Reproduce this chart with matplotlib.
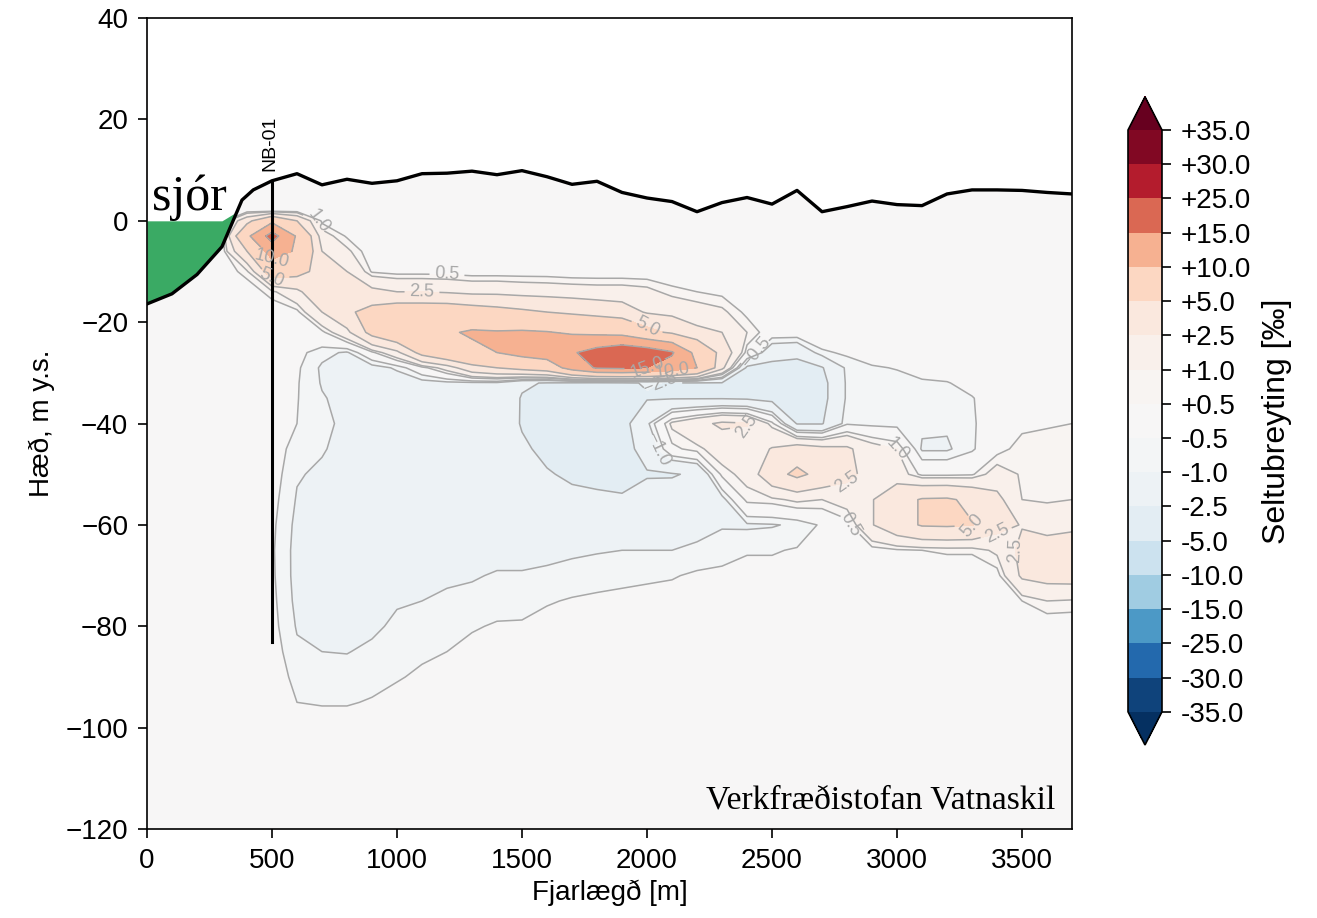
import numpy as np
import matplotlib
matplotlib.use("Agg")
import matplotlib.pyplot as plt

plt.rcParams['font.family'] = ['Liberation Sans', 'DejaVu Sans']
plt.rcParams['font.size'] = 10

# model grid: distance along section [m] and elevation [m y.s.]
dist_m = list(range(0, 3800, 100))
depth_m = [2, 0, -3, -6, -10, -14, -18, -22, -26, -29, -32, -35, -40,
           -45, -50, -55, -60, -65, -70, -75, -80, -85, -90, -95, -100]

# salinity change [permil], one vertical profile per distance (top -> bottom)
salt_change = [
    [0] * 25,  # 0
    [0] * 25,  # 100
    [0] * 25,  # 200
    [0] * 25,  # 300
    [0, 4, 9, 5, 0.8, 0, 0, 0, 0, 0, 0, 0, 0, 0, 0, 0, 0, 0, 0, 0, 0, 0, 0, 0, 0],  # 400
    [0, 9, 17, 12, 7, 0.8, 0, 0, 0, 0, 0, 0, 0, -0.1, -0.2, -0.3, -0.38, -0.42, -0.4, -0.35, -0.3, -0.2, -0.1, 0, 0],  # 500
    [0, 5, 9.5, 9.5, 6, 2, 0.3, 0, -0.3, -0.4, -0.45, -0.47, -0.5, -0.8, -0.95, -1.05, -1.15, -1.2, -1.2, -1.15, -1.05, -0.9, -0.7, -0.5, -0.2],  # 600
    [0, 0.3, 1.5, 2.5, 4, 4.5, 2.5, 0.3, -0.8, -1.1, -1.05, -0.95, -0.9, -0.95, -1.1, -1.3, -1.4, -1.45, -1.45, -1.4, -1.25, -1.0, -0.8, -0.55, -0.2],  # 700
    [0, 0, 0.4, 1.2, 2.5, 4, 4.5, 2, -1.1, -1.3, -1.3, -1.2, -1.1, -1.2, -1.4, -1.5, -1.6, -1.6, -1.6, -1.5, -1.3, -1.02, -0.8, -0.55, -0.2],  # 800
    [0, 0, 0, 0, 0.4, 3, 6, 6, 0.3, -1.3, -1.4, -1.4, -1.4, -1.5, -1.6, -1.7, -1.7, -1.7, -1.6, -1.4, -1.1, -0.9, -0.7, -0.45, -0.2],  # 900
    [0, 0, 0, 0, 0.2, 2.5, 7, 8, 2, -0.9, -1.4, -1.5, -1.5, -1.6, -1.7, -1.7, -1.6, -1.5, -1.3, -1.05, -0.9, -0.75, -0.55, -0.3, -0.1],  # 1000
    [0, 0, 0, 0, 0.2, 2.5, 7, 9, 6, 0.2, -1.3, -1.5, -1.5, -1.6, -1.6, -1.6, -1.5, -1.4, -1.2, -1.0, -0.8, -0.6, -0.4, -0.2, 0],  # 1100
    [0, 0, 0, 0, 0.2, 2.3, 7, 9.5, 8, 1.5, -1.2, -1.4, -1.5, -1.6, -1.6, -1.5, -1.4, -1.3, -1.1, -0.9, -0.7, -0.5, -0.3, -0.1, 0],  # 1200
    [0, 0, 0, 0, 0.1, 2, 6.5, 10.5, 9, 4, -1.2, -1.4, -1.5, -1.6, -1.6, -1.5, -1.4, -1.2, -1.05, -0.85, -0.55, -0.35, -0.15, 0, 0],  # 1300
    [0, 0, 0, 0, 0.1, 2, 6, 10.3, 10, 5, -1.2, -1.4, -1.6, -1.7, -1.7, -1.6, -1.4, -1.2, -0.95, -0.7, -0.45, -0.25, -0.1, 0, 0],  # 1400
    [0, 0, 0, 0, 0.1, 1.8, 5.5, 10.5, 11.5, 6, -2.3, -2.6, -2.6, -2.3, -2.0, -1.8, -1.5, -1.2, -0.95, -0.65, -0.45, -0.25, 0, 0, 0],  # 1500
    [0, 0, 0, 0, 0.1, 1.7, 5, 10.2, 12.5, 7, -2.6, -2.8, -2.9, -2.8, -2.4, -2.0, -1.6, -1.15, -0.9, -0.55, -0.3, -0.1, 0, 0, 0],  # 1600
    [0, 0, 0, 0, 0, 1.6, 4.5, 9.5, 14.5, 12, -2.7, -3.0, -3.1, -3.0, -2.7, -2.2, -1.6, -1.1, -0.8, -0.45, -0.2, 0, 0, 0, 0],  # 1700
    [0, 0, 0, 0, 0, 1.5, 4, 9, 17, 15.5, -2.8, -3.1, -3.2, -3.1, -2.8, -2.3, -1.6, -1.05, -0.7, -0.4, -0.1, 0, 0, 0, 0],  # 1800
    [0, 0, 0, 0, 0, 1.5, 3.5, 8.5, 19, 16, -2.7, -3.0, -3.1, -3.0, -2.8, -2.4, -1.6, -1.0, -0.65, -0.35, 0, 0, 0, 0, 0],  # 1900
    [0, 0, 0, 0, 0, 1.3, 2.3, 6, 18, 15, -2.4, -2.6, -1.2, -2.0, -2.6, -2.0, -1.45, -1.0, -0.6, -0.3, 0, 0, 0, 0, 0],  # 2000
    [0, 0, 0, 0, 0, 0.7, 2, 4.5, 15.5, 13, -2.6, -2.6, 1.2, 0.3, -2.6, -1.9, -1.4, -1.0, -0.55, -0.25, 0, 0, 0, 0, 0],  # 2100
    [0, 0, 0, 0, 0, 0.5, 1.5, 3, 8.5, 10, -2.6, -2.6, 2.0, 0.8, -2.3, -1.6, -1.2, -0.9, -0.4, -0.2, 0, 0, 0, 0, 0],  # 2200
    [0, 0, 0, 0, 0, 0.3, 1.2, 2.5, 4, 3, -2.6, -2.6, 2.8, 1.5, 0.7, -1.3, -1.05, -0.75, -0.35, -0.2, 0, 0, 0, 0, 0],  # 2300
    [0, 0, 0, 0, 0, 0, 0.3, 1.0, 0.2, -2.8, -3.0, -2.7, 2.6, 1.6, 1.3, 0.7, -1.1, -0.55, -0.3, -0.1, 0, 0, 0, 0, 0],  # 2400
    [0, 0, 0, 0, 0, 0, 0, 0, -1.8, -3.0, -3.2, -3.0, 0.7, 2.6, 4.0, 0.8, -1.05, -0.55, -0.3, -0.1, 0, 0, 0, 0, 0],  # 2500
    [0, 0, 0, 0, 0, 0, 0, 0, -2.0, -3.2, -3.3, -3.2, -2.6, 3.5, 5.6, 1.2, -0.9, -0.45, -0.2, 0, 0, 0, 0, 0, 0],  # 2600
    [0, 0, 0, 0, 0, 0, 0, 0, -0.6, -2.6, -3.0, -3.0, -2.6, 3.0, 4.2, 1.0, -0.4, 0, 0, 0, 0, 0, 0, 0, 0],  # 2700
    [0, 0, 0, 0, 0, 0, 0, 0, -0.4, -0.8, -0.85, -0.85, -0.6, 2.8, 3.0, 1.5, 0.2, 0, 0, 0, 0, 0, 0, 0, 0],  # 2800
    [0, 0, 0, 0, 0, 0, 0, 0, 0, -0.6, -0.8, -0.85, -0.7, 1.5, 1.8, 2.4, 2.4, 0.2, 0, 0, 0, 0, 0, 0, 0],  # 2900
    [0, 0, 0, 0, 0, 0, 0, 0, 0, -0.45, -0.8, -0.85, -0.75, 1.0, 1.6, 4.0, 4.0, 0.4, 0, 0, 0, 0, 0, 0, 0],  # 3000
    [0, 0, 0, 0, 0, 0, 0, 0, 0, -0.2, -0.6, -0.75, -0.85, -1.1, 0.3, 5.2, 5.2, 0.5, 0, 0, 0, 0, 0, 0, 0],  # 3100
    [0, 0, 0, 0, 0, 0, 0, 0, 0, 0, -0.55, -0.8, -0.9, -1.1, 0.3, 5.3, 5.3, 0.6, 0, 0, 0, 0, 0, 0, 0],  # 3200
    [0, 0, 0, 0, 0, 0, 0, 0, 0, 0, -0.2, -0.55, -0.6, -0.6, 0.4, 4.5, 5.1, 0.6, 0, 0, 0, 0, 0, 0, 0],  # 3300
    [0, 0, 0, 0, 0, 0, 0, 0, 0, 0, 0, 0, 0, 0.2, 1.5, 3.0, 3.2, 1.2, 0.2, 0, 0, 0, 0, 0, 0],  # 3400
    [0, 0, 0, 0, 0, 0, 0, 0, 0, 0, 0, 0, 0.3, 0.8, 0.9, 1.0, 2.4, 3.0, 2.8, 0.5, 0, 0, 0, 0, 0],  # 3500
    [0, 0, 0, 0, 0, 0, 0, 0, 0, 0, 0, 0, 0.45, 0.7, 0.75, 0.85, 2.0, 3.2, 3.2, 1.0, 0, 0, 0, 0, 0],  # 3600
    [0, 0, 0, 0, 0, 0, 0, 0, 0, 0, 0, 0, 0.5, 0.7, 0.8, 1.0, 2.2, 3.3, 3.3, 0.9, 0, 0, 0, 0, 0],  # 3700
]

# ground surface / sea bed
surf_x = [0, 100, 200, 300, 380, 425, 500, 600, 700, 800, 900, 1000, 1100, 1200,
          1300, 1400, 1500, 1600, 1700, 1800, 1900, 2000, 2100, 2200, 2300, 2400,
          2500, 2600, 2700, 2800, 2900, 3000, 3100, 3200, 3300, 3400, 3500, 3600, 3700]
surf_z = [-16.4, -14.4, -10.6, -5.1, 4.1, 6.1, 7.9, 9.3, 7.1, 8.2, 7.4, 7.9, 9.3, 9.4,
          9.8, 9.1, 9.9, 8.7, 7.2, 7.8, 5.6, 4.5, 3.8, 1.8, 3.6, 4.6,
          3.3, 6.0, 1.8, 2.8, 3.9, 3.2, 3.0, 5.3, 6.1, 6.1, 6.0, 5.6, 5.3]

# sea
sea_x = [0, 100, 200, 300, 360]
sea_top = [0, 0, 0, 0, 1.8]

# well NB-01
well_x = 500
well_bottom = -83

levels = [-35, -30, -25, -15, -10, -5, -2.5, -1, -0.5, 0.5, 1, 2.5, 5, 10, 15, 25, 30, 35]
cbar_labels = [f'{v:+.1f}' for v in levels]

salt = np.array(salt_change).T
X, Z = np.meshgrid(dist_m, depth_m)
cmap = plt.get_cmap('RdBu_r')

fig = plt.figure(figsize=(6.585, 4.59), dpi=200)
ax = fig.add_axes([0.1116, 0.0969, 0.7024, 0.8834])
ax.set_facecolor(cmap(0.5))

cf = ax.contourf(X, Z, salt, levels=levels, cmap=cmap, extend='both', zorder=1)
cs = ax.contour(X, Z, salt, levels=levels, colors='#a8a8a8', linewidths=0.55,
                linestyles='solid', negative_linestyles='solid', zorder=1.2)
ax.clabel(cs, fmt=lambda v: f'{v:.1f}'.replace('-', '\u2212'), fontsize=6.5, colors='#a8a8a8')

# land above ground is blank, sea in green
ax.fill_between(surf_x, surf_z, 40, color='white', lw=0, zorder=2)
sea_bed = np.interp(sea_x, surf_x, surf_z)
ax.fill_between(sea_x, sea_bed, sea_top, color='#3aaa64', lw=0, zorder=2.5)
ax.plot(surf_x, surf_z, color='black', lw=1.2, zorder=3)

well_top = np.interp(well_x, surf_x, surf_z)
ax.plot([well_x, well_x], [well_top, well_bottom], color='black', lw=1.1, zorder=3)
ax.text(well_x - 10, 9.8, 'NB-01', rotation=90, ha='center', va='bottom', fontsize=7)

ax.text(20, 2.2, 'sjór', family='Liberation Serif', fontsize=18, ha='left', va='baseline', zorder=4)
ax.text(0.982, 0.025, 'Verkfræðistofan Vatnaskil', family='Liberation Serif', fontsize=12.1,
        ha='right', va='baseline', transform=ax.transAxes, zorder=4)

ax.set_xlim(0, 3700)
ax.set_ylim(-120, 40)
ax.set_xticks(range(0, 3700, 500))
ax.set_yticks(range(-120, 41, 20))
ax.set_xlabel('Fjarlægð [m]', labelpad=2)
ax.set_ylabel('Hæð, m y.s.')
ax.tick_params(direction='out', length=3.2, width=0.6)
for s in ax.spines.values():
    s.set_linewidth(0.6)

# colorbar axes includes the extension triangles
cax = fig.add_axes([0.8565, 0.1885, 0.0258, 0.706])
cb = fig.colorbar(cf, cax=cax, ticks=levels, extendfrac=0.057)
cb.set_ticklabels(cbar_labels)
cb.set_label('Seltubreyting [‰]', fontsize=11.5)
cb.outline.set_linewidth(0.6)
cax.tick_params(length=3.2, width=0.6)

fig.savefig('out.png', dpi=200)
